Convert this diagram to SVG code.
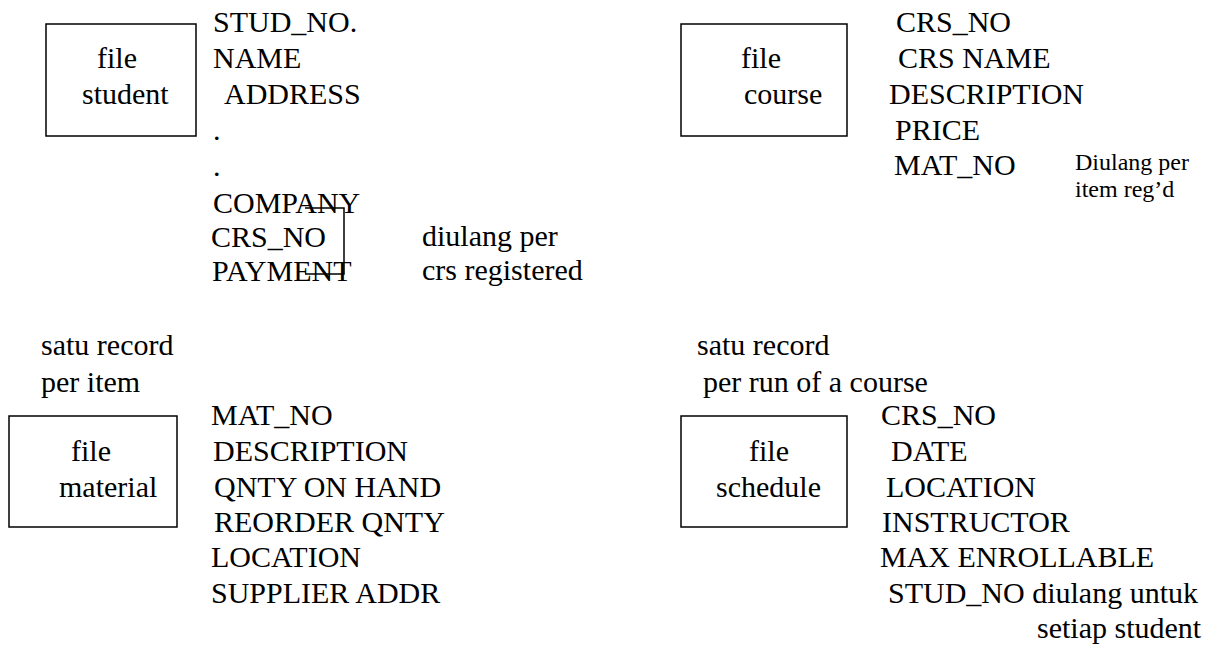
<svg xmlns="http://www.w3.org/2000/svg" width="1224" height="648" viewBox="0 0 1224 648" font-family="'Liberation Serif', 'Times New Roman', Times, 'DejaVu Serif', serif">
<style>
text{font-family:'Liberation Serif','Times New Roman',Times,'DejaVu Serif',serif;font-size:30px;fill:#000}
text.s{font-size:24px}
.box{fill:#fff;stroke:#000;stroke-width:1.5}
.ln{fill:none;stroke:#000;stroke-width:1.5}
</style>
<rect width="1224" height="648" fill="#fff"/>
<g id="student">
<rect class="box" x="46" y="24" width="150" height="112"/>
<text x="97" y="68">file</text>
<text x="82" y="104">student</text>
<text x="213" y="32">STUD_NO.</text>
<text x="213" y="68">NAME</text>
<text x="224" y="104">ADDRESS</text>
<text x="213" y="140">.</text>
<text x="213" y="176">.</text>
<text x="213" y="213">COMPANY</text>
<text x="211" y="247">CRS_NO</text>
<text x="212" y="281">PAYMENT</text>
<text x="422" y="246">diulang per</text>
<text x="422" y="280">crs registered</text>
</g>
<g id="course">
<rect class="box" x="681" y="24" width="166" height="112"/>
<text x="741" y="68">file</text>
<text x="744" y="104">course</text>
<text x="896" y="32">CRS_NO</text>
<text x="898" y="68">CRS NAME</text>
<text x="889" y="104">DESCRIPTION</text>
<text x="895" y="140">PRICE</text>
<text x="894" y="175">MAT_NO</text>
<text class="s" x="1075" y="170">Diulang per</text>
<text class="s" x="1075" y="197">item reg’d</text>
</g>
<g id="material">
<text x="41" y="355">satu record</text>
<text x="41" y="392">per item</text>
<rect class="box" x="9" y="416" width="168" height="111"/>
<text x="71" y="461">file</text>
<text x="59" y="497">material</text>
<text x="211" y="425">MAT_NO</text>
<text x="213" y="461">DESCRIPTION</text>
<text x="214" y="497">QNTY ON HAND</text>
<text x="214" y="532">REORDER QNTY</text>
<text x="211" y="567">LOCATION</text>
<text x="211" y="603">SUPPLIER ADDR</text>
</g>
<g id="schedule">
<text x="697" y="355">satu record</text>
<text x="703" y="392">per run of a course</text>
<rect class="box" x="681" y="416" width="166" height="111"/>
<text x="749" y="461">file</text>
<text x="716" y="497">schedule</text>
<text x="881" y="425">CRS_NO</text>
<text x="891" y="461">DATE</text>
<text x="886" y="497">LOCATION</text>
<text x="882" y="532">INSTRUCTOR</text>
<text x="880" y="567">MAX ENROLLABLE</text>
<text x="888" y="603">STUD_NO diulang untuk</text>
<text x="1037" y="638">setiap student</text>
</g>
<g id="connectors">
<polyline class="ln" points="305,208 344,208 344,274 305,274"/>
</g>
</svg>
